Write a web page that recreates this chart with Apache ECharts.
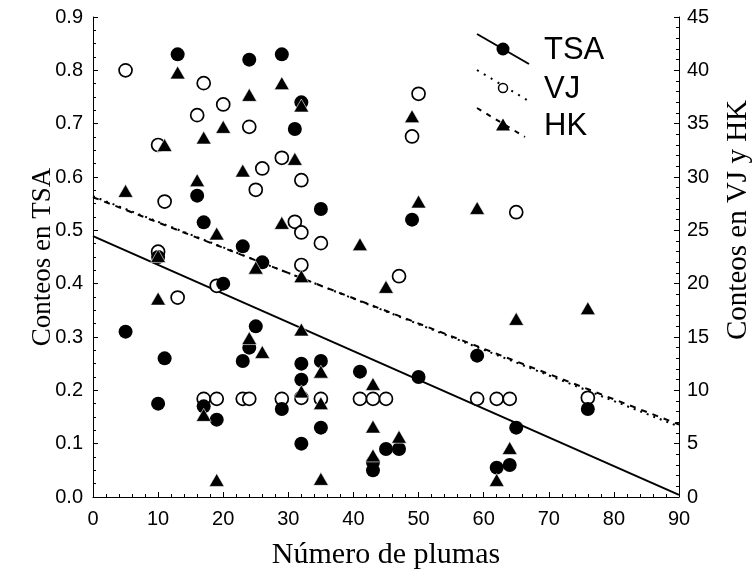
<!DOCTYPE html>
<html>
<head>
<meta charset="utf-8">
<script src="https://cdn.jsdelivr.net/npm/echarts@6/dist/echarts.min.js"></script>
<style>
html,body{margin:0;padding:0;background:#fff;}
#chart{width:756px;height:577px;}
</style>
</head>
<body>
<div id="chart"></div>
<script>
// Data
const xTicks = [0,10,20,30,40,50,60,70,80,90];
const leftTicks = [0,0.1,0.2,0.3,0.4,0.5,0.6,0.7,0.8,0.9];
const rightTicks = [0,5,10,15,20,25,30,35,40,45];

const tsaPoints = [
  [5,0.31],[10,0.45],[10,0.175],[11,0.26],[13,0.83],[16,0.565],[17,0.515],[17,0.17],
  [19,0.145],[20,0.40],[23,0.47],[23,0.255],[24,0.82],[24,0.28],[25,0.32],[26,0.44],
  [29,0.83],[29,0.165],[31,0.69],[32,0.74],[32,0.25],[32,0.22],[32,0.10],[35,0.54],
  [35,0.255],[35,0.13],[41,0.235],[43,0.065],[43,0.05],[45,0.09],[47,0.09],[49,0.52],
  [50,0.225],[59,0.265],[62,0.055],[64,0.06],[65,0.13],[76,0.165]
];
const vjPoints = [
  [5,40],[10,33],[10,23],[11,27.7],[13,18.7],[16,35.8],[17,38.8],[17,9.2],[19,19.8],
  [19,9.2],[20,36.8],[23,9.2],[24,34.7],[24,9.2],[25,28.8],[26,30.8],[29,31.8],[29,9.2],
  [31,25.8],[32,29.7],[32,24.8],[32,21.75],[32,9.3],[35,23.8],[35,9.2],[41,9.2],[43,9.2],
  [45,9.2],[47,20.7],[49,33.8],[50,37.8],[59,9.2],[62,9.2],[64,9.2],[65,26.7],[76,9.3]
];
const hkPoints = [
  [5,28.7],[10,22.6],[10,18.6],[11,33],[13,39.8],[16,29.7],[17,33.7],[17,7.7],[19,24.7],
  [19,1.6],[20,34.7],[23,30.6],[24,37.7],[24,14.9],[25,21.5],[26,13.6],[29,38.8],[29,25.7],
  [31,31.7],[32,36.7],[32,20.7],[32,15.7],[32,9.9],[35,11.75],[35,8.8],[35,1.7],[41,23.7],
  [43,10.6],[43,6.6],[43,3.9],[45,19.7],[47,5.65],[49,35.7],[50,27.7],[59,27.1],[62,1.6],
  [64,4.6],[65,16.7],[76,17.7]
];
// fitted regression lines (endpoints)
const tsaFit = [[0,0.489],[90,0.004]];
const vjFit = [[0,28.2],[90,6.6]];
const hkFit = [[0,28.1],[90,6.8]];

const chart = echarts.init(document.getElementById('chart'), null, {renderer:'canvas', width:756, height:577});

const labelFont = {color:'#000', fontFamily:'Liberation Sans, Arial, sans-serif', fontSize:20};
const serif = '"Liberation Serif", "Times New Roman", serif';

function axisCommon(){
  return {
    axisLine:{show:true, onZero:false, lineStyle:{color:'#000', width:1}},
    axisTick:{show:true, inside:true, length:5, lineStyle:{color:'#000', width:1}},
    splitLine:{show:false},
    minorSplitLine:{show:false}
  };
}

const legendY = [49, 88, 125];
const legendFont = '31px "Liberation Sans", Arial, sans-serif';
const legendGraphics = [
  {type:'line', shape:{x1:477,y1:34,x2:529,y2:64}, style:{stroke:'#000', lineWidth:2}},
  {type:'circle', shape:{cx:503, cy:legendY[0], r:6.5}, style:{fill:'#000'}},
  {type:'text', x:544, y:legendY[0]+1, style:{text:'TSA', fill:'#000', font:legendFont, verticalAlign:'middle'}},
  {type:'line', shape:{x1:477,y1:70,x2:527,y2:100}, style:{stroke:'#000', lineWidth:2, lineDash:[2,6]}},
  {type:'circle', shape:{cx:503, cy:legendY[1], r:4.5}, style:{fill:'#fff', stroke:'#000', lineWidth:1.5}},
  {type:'text', x:544, y:legendY[1]+1, style:{text:'VJ', fill:'#000', font:legendFont, verticalAlign:'middle'}},
  {type:'line', shape:{x1:477,y1:108,x2:525,y2:137}, style:{stroke:'#000', lineWidth:2, lineDash:[5,6]}},
  {type:'polygon', shape:{points:[[503,118.5],[496,130.5],[510,130.5]]}, style:{fill:'#000'}},
  {type:'text', x:544, y:legendY[2]+1, style:{text:'HK', fill:'#000', font:legendFont, verticalAlign:'middle'}},
  // right axis title (anchored like the reference: starts level with the left title)
  {type:'text', x:738, y:220, rotation:Math.PI/2,
    style:{text:'Conteos en VJ y HK', fill:'#000', font:'29px ' + serif, align:'center', verticalAlign:'middle'}}
];

const option = {
  backgroundColor:'#fff',
  animation:false,
  grid:{left:93, right:77, top:17, bottom:80, containLabel:false},
  xAxis:Object.assign(axisCommon(), {
    type:'value', min:xTicks[0], max:xTicks[xTicks.length-1], interval:10,
    minorTick:{show:true, splitNumber:5, length:3, lineStyle:{color:'#000'}},
    axisLabel:Object.assign({margin:12}, labelFont),
    name:'Número de plumas', nameLocation:'middle', nameGap:43,
    nameTextStyle:{color:'#000', fontFamily:serif, fontSize:30}
  }),
  yAxis:[
    Object.assign(axisCommon(), {
      type:'value', min:leftTicks[0], max:leftTicks[leftTicks.length-1], interval:0.1,
      minorTick:{show:true, splitNumber:4, length:3, lineStyle:{color:'#000'}},
      axisLabel:Object.assign({margin:10, formatter:v=>v.toFixed(1)}, labelFont),
      name:'Conteos en TSA', nameLocation:'middle', nameGap:37, nameRotate:90, nameMoveOverlap:false,
      nameTextStyle:{color:'#000', fontFamily:serif, fontSize:27}
    }),
    Object.assign(axisCommon(), {
      type:'value', position:'right', min:rightTicks[0], max:rightTicks[rightTicks.length-1], interval:5,
      minorTick:{show:true, splitNumber:5, length:3, lineStyle:{color:'#000'}},
      axisLabel:Object.assign({margin:8}, labelFont)
    })
  ],
  series:[
    {type:'line', name:'VJ fit', yAxisIndex:1, data:vjFit, symbol:'none', silent:true,
      lineStyle:{color:'#000', width:2, type:[2,5]}, z:1},
    {type:'line', name:'HK fit', yAxisIndex:1, data:hkFit, symbol:'none', silent:true,
      lineStyle:{color:'#000', width:2, type:[6,6]}, z:1},
    {type:'line', name:'TSA fit', yAxisIndex:0, data:tsaFit, symbol:'none', silent:true,
      lineStyle:{color:'#000', width:2, type:'solid'}, z:1},
    {type:'scatter', name:'VJ', yAxisIndex:1, data:vjPoints, symbol:'circle', symbolSize:13,
      itemStyle:{color:'#fff', borderColor:'#000', borderWidth:1.7, opacity:1}, z:2},
    {type:'scatter', name:'TSA', yAxisIndex:0, data:tsaPoints, symbol:'circle', symbolSize:14,
      itemStyle:{color:'#000', opacity:1}, z:3},
    {type:'scatter', name:'HK', yAxisIndex:1, data:hkPoints, symbol:'triangle', symbolSize:[15,13],
      itemStyle:{color:'#000', borderColor:'#fff', borderWidth:0.6, opacity:1}, z:4}
  ],
  graphic:legendGraphics
};
chart.setOption(option);
</script>
</body>
</html>
